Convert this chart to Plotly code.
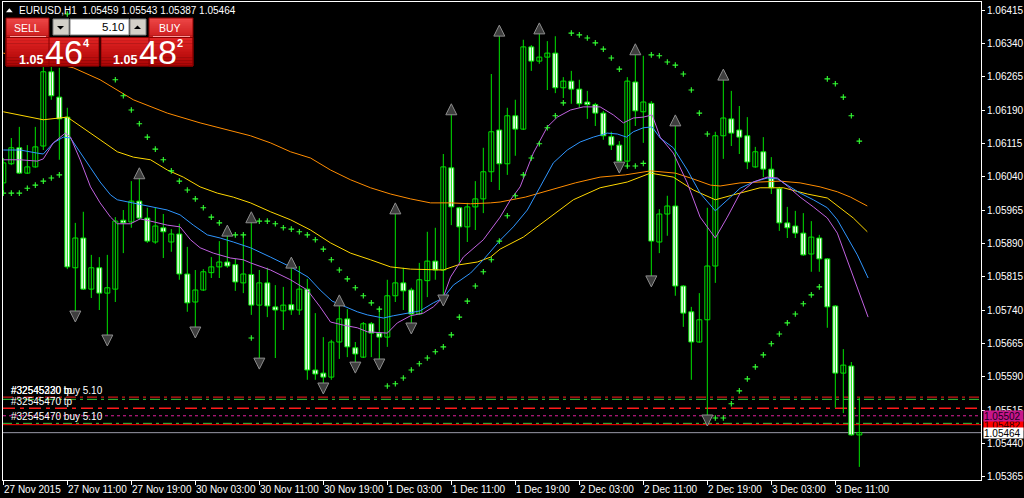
import plotly.graph_objects as go

# ---------------- data ----------------
symbol = "EURUSD,H1"
time_label_bars = [0, 8, 16, 24, 32, 40, 48, 56, 64, 72, 80, 88, 96, 104]
time_labels = ["27 Nov 2015", "27 Nov 11:00", "27 Nov 19:00", "30 Nov 03:00", "30 Nov 11:00",
               "30 Nov 19:00", "1 Dec 03:00", "1 Dec 11:00", "1 Dec 19:00", "2 Dec 03:00",
               "2 Dec 11:00", "2 Dec 19:00", "3 Dec 03:00", "3 Dec 11:00"]
price_ticks = [1.06415, 1.06340, 1.06265, 1.06190, 1.06115, 1.06040, 1.05965, 1.05890,
               1.05815, 1.05740, 1.05665, 1.05590, 1.05515, 1.05440, 1.05365]

opens = [1.06026, 1.06069, 1.06105, 1.06048, 1.06062, 1.06109, 1.06276, 1.06219, 1.06174, 1.05835,
         1.05902, 1.05787, 1.05835, 1.05778, 1.05787, 1.05942, 1.05938, 1.05985, 1.05947, 1.05893,
         1.05925, 1.05893, 1.05911, 1.05821, 1.05758, 1.05785, 1.05824, 1.05837, 1.05848, 1.05842,
         1.05801, 1.05820, 1.05751, 1.05801, 1.05747, 1.05738, 1.05752, 1.05740, 1.05787, 1.05605,
         1.05598, 1.05589, 1.05668, 1.05720, 1.05655, 1.05634, 1.05709, 1.05688, 1.05679, 1.05772,
         1.05801, 1.05785, 1.05731, 1.05806, 1.05850, 1.05830, 1.06060, 1.05970, 1.05927, 1.05972,
         1.05990, 1.06051, 1.06145, 1.06069, 1.06177, 1.06147, 1.06332, 1.06300, 1.06309, 1.06318,
         1.06240, 1.06255, 1.06237, 1.06208, 1.06202, 1.06183, 1.06130, 1.06111, 1.06075, 1.06253,
         1.06186, 1.06205, 1.05893, 1.05956, 1.05974, 1.05794, 1.05736, 1.05668, 1.05718, 1.05839,
         1.06132, 1.06170, 1.06145, 1.06132, 1.06062, 1.06096, 1.06057, 1.06013, 1.05936, 1.05929,
         1.05913, 1.05866, 1.05902, 1.05855, 1.05749, 1.05598, 1.05614, 1.05459]
highs = [1.06082, 1.06127, 1.06152, 1.06111, 1.06152, 1.06298, 1.06307, 1.06285, 1.06195, 1.05936,
         1.05961, 1.05864, 1.05859, 1.05864, 1.05949, 1.05965, 1.06030, 1.06037, 1.05970, 1.05970,
         1.05956, 1.05922, 1.05934, 1.05882, 1.05830, 1.05832, 1.05859, 1.05895, 1.05909, 1.05855,
         1.05909, 1.05938, 1.05830, 1.05835, 1.05796, 1.05792, 1.05839, 1.05839, 1.05810, 1.05733,
         1.05679, 1.05673, 1.05751, 1.05742, 1.05668, 1.05713, 1.05713, 1.05745, 1.05808, 1.05958,
         1.05835, 1.05790, 1.05846, 1.05916, 1.05925, 1.06091, 1.06181, 1.05972, 1.05981, 1.06030,
         1.06105, 1.06271, 1.06363, 1.06195, 1.06213, 1.06348, 1.06336, 1.06363, 1.06345, 1.06356,
         1.06264, 1.06278, 1.06258, 1.06233, 1.06206, 1.06188, 1.06141, 1.06120, 1.06264, 1.06314,
         1.06312, 1.06210, 1.05967, 1.05997, 1.06156, 1.05796, 1.05747, 1.05778, 1.05970, 1.06141,
         1.06260, 1.06233, 1.06199, 1.06174, 1.06107, 1.06129, 1.06084, 1.06017, 1.05972, 1.05963,
         1.05958, 1.05940, 1.05909, 1.05857, 1.05751, 1.05652, 1.05623, 1.05543]
lows = [1.06003, 1.06066, 1.06046, 1.06046, 1.06060, 1.06100, 1.06213, 1.06078, 1.05832, 1.05729,
        1.05785, 1.05767, 1.05740, 1.05677, 1.05758, 1.05868, 1.05925, 1.05943, 1.05891, 1.05889,
        1.05857, 1.05871, 1.05808, 1.05736, 1.05695, 1.05783, 1.05812, 1.05812, 1.05835, 1.05783,
        1.05778, 1.05729, 1.05621, 1.05724, 1.05632, 1.05695, 1.05729, 1.05729, 1.05583, 1.05583,
        1.05567, 1.05583, 1.05630, 1.05634, 1.05612, 1.05632, 1.05634, 1.05621, 1.05657, 1.05758,
        1.05740, 1.05702, 1.05729, 1.05769, 1.05808, 1.05758, 1.05931, 1.05846, 1.05893, 1.05920,
        1.05958, 1.06028, 1.06010, 1.06044, 1.06087, 1.06145, 1.06278, 1.06294, 1.06235, 1.06228,
        1.06217, 1.06204, 1.06195, 1.06170, 1.06154, 1.06123, 1.06100, 1.06064, 1.06062, 1.06154,
        1.06116, 1.05808, 1.05868, 1.05907, 1.05772, 1.05702, 1.05583, 1.05666, 1.05497, 1.05801,
        1.06080, 1.06109, 1.06091, 1.06057, 1.06060, 1.06039, 1.06001, 1.05918, 1.05902, 1.05902,
        1.05862, 1.05826, 1.05826, 1.05700, 1.05520, 1.05508, 1.05457, 1.05387]
closes = [1.06071, 1.06105, 1.06048, 1.06062, 1.06107, 1.06276, 1.06222, 1.06170, 1.05837, 1.05902,
          1.05787, 1.05835, 1.05778, 1.05790, 1.05940, 1.05936, 1.05985, 1.05947, 1.05895, 1.05929,
          1.05916, 1.05911, 1.05821, 1.05756, 1.05785, 1.05826, 1.05837, 1.05848, 1.05839, 1.05803,
          1.05821, 1.05751, 1.05801, 1.05749, 1.05740, 1.05751, 1.05740, 1.05787, 1.05605, 1.05596,
          1.05589, 1.05668, 1.05720, 1.05657, 1.05641, 1.05709, 1.05688, 1.05679, 1.05772, 1.05801,
          1.05783, 1.05731, 1.05808, 1.05850, 1.05830, 1.06062, 1.05972, 1.05927, 1.05972, 1.05990,
          1.06051, 1.06141, 1.06069, 1.06177, 1.06147, 1.06332, 1.06300, 1.06309, 1.06318, 1.06240,
          1.06255, 1.06237, 1.06204, 1.06202, 1.06183, 1.06132, 1.06111, 1.06075, 1.06255, 1.06188,
          1.06208, 1.05895, 1.05956, 1.05974, 1.05794, 1.05733, 1.05668, 1.05718, 1.05839, 1.06132,
          1.06172, 1.06138, 1.06129, 1.06073, 1.06096, 1.06057, 1.06015, 1.05936, 1.05925, 1.05913,
          1.05864, 1.05904, 1.05855, 1.05747, 1.05598, 1.05616, 1.05459, 1.05464]

# moving averages (bar position, price)
ma_blue_bar = [0, 2.1, 4.25, 5, 6.25, 7.5, 8.4, 9.6, 10.9, 12.1, 13.4, 14.25, 16.25, 18.4, 20.5, 22.1,
               23.75, 25.5, 27.1, 28.75, 30.9, 33.4, 35.9, 38.1, 39.6, 41.1, 42.5, 44.25, 45.5, 47.5,
               48.75, 50.5, 52.1, 53.75, 55, 56.25, 58.4, 60, 62.1, 63.75, 65.5, 67.1, 68.75, 70.5,
               72.1, 73.75, 75.5, 76.75, 77.9, 78.75, 80, 81.1, 82.1, 83.75, 85.5, 87.1, 89, 90.9,
               92.1, 93.75, 95.5, 96.75, 98, 99.6, 101.25, 103, 104.25, 105.5, 106.75, 108.1]
ma_blue = [1.06100, 1.06100, 1.06093, 1.06091, 1.06116, 1.06129, 1.06127, 1.06096, 1.06060, 1.06028,
           1.05999, 1.05988, 1.05981, 1.05972, 1.05965, 1.05954, 1.05931, 1.05909, 1.05902, 1.05893,
           1.05880, 1.05859, 1.05837, 1.05814, 1.05785, 1.05760, 1.05749, 1.05736, 1.05729, 1.05722,
           1.05727, 1.05733, 1.05738, 1.05756, 1.05767, 1.05796, 1.05823, 1.05853, 1.05897, 1.05927,
           1.05965, 1.06017, 1.06071, 1.06100, 1.06118, 1.06129, 1.06138, 1.06136, 1.06129, 1.06141,
           1.06150, 1.06152, 1.06127, 1.06105, 1.06055, 1.06003, 1.05963, 1.05994, 1.06014, 1.06028,
           1.06037, 1.06035, 1.06021, 1.06003, 1.05988, 1.05970, 1.05943, 1.05904, 1.05864, 1.05812]
ma_violet_bar = [0, 2.1, 4.25, 5, 6.25, 7.75, 8.4, 9.6, 10.9, 12.1, 13.4, 14.25, 15.9, 17.1, 18.4, 20.5,
                 22.1, 23.4, 24.6, 26.25, 28.4, 30, 30.9, 33.4, 35.9, 38, 39.6, 40.9, 42.5, 44.25,
                 45.5, 48, 49.25, 50.9, 52.5, 53.75, 55, 55.9, 57.5, 60, 62.1, 63.4, 64.6, 66.25, 68,
                 69.25, 70.9, 72.5, 74.6, 76.25, 77.5, 78.75, 80, 81.1, 82.1, 83.75, 85.5, 87.1, 89,
                 90.5, 92.1, 93.75, 95.5, 96.75, 98, 99.6, 101.25, 103, 104.25, 105.5, 106.75, 108.1]
ma_violet = [1.06078, 1.06078, 1.06075, 1.06080, 1.06116, 1.06138, 1.06129, 1.06078, 1.06017, 1.05981,
             1.05949, 1.05934, 1.05934, 1.05945, 1.05940, 1.05931, 1.05927, 1.05898, 1.05880, 1.05868,
             1.05857, 1.05853, 1.05846, 1.05830, 1.05808, 1.05785, 1.05747, 1.05713, 1.05706, 1.05700,
             1.05691, 1.05688, 1.05711, 1.05727, 1.05733, 1.05747, 1.05769, 1.05814, 1.05859, 1.05898,
             1.05949, 1.05988, 1.06017, 1.06093, 1.06152, 1.06174, 1.06190, 1.06197, 1.06197, 1.06179,
             1.06161, 1.06172, 1.06174, 1.06179, 1.06129, 1.06093, 1.06026, 1.05949, 1.05902, 1.05949,
             1.06003, 1.06028, 1.06039, 1.06037, 1.06019, 1.05994, 1.05972, 1.05947, 1.05913, 1.05853,
             1.05792, 1.05724]
ma_yellow_bar = [0, 5, 8, 10, 12.1, 14.25, 16.25, 18.4, 20.5, 22.5, 24.6, 26.75, 28.75, 30.9, 33.4,
                 35.9, 38.4, 40.9, 43.4, 45.9, 48.4, 50.9, 53.4, 55, 56.75, 59.25, 60.9, 62.1, 65,
                 68.4, 71.25, 74.6, 78, 80.9, 83.75, 86.25, 89, 91.25, 93.4, 94.6, 97.5, 100.5, 103,
                 104.6, 106.25, 108]
ma_yellow = [1.06186, 1.06168, 1.06174, 1.06150, 1.06123, 1.06096, 1.06084, 1.06078, 1.06055, 1.06039,
             1.06017, 1.06003, 1.05994, 1.05981, 1.05961, 1.05943, 1.05920, 1.05891, 1.05868, 1.05853,
             1.05837, 1.05832, 1.05830, 1.05830, 1.05841, 1.05848, 1.05859, 1.05877, 1.05904, 1.05949,
             1.05988, 1.06015, 1.06028, 1.06048, 1.06039, 1.06010, 1.05988, 1.05999, 1.06010, 1.06015,
             1.06015, 1.06001, 1.05992, 1.05970, 1.05947, 1.05916]
ma_orange_bar = [0, 8.75, 12.1, 16.25, 20.5, 24.6, 30.9, 33.4, 35.9, 38.4, 40.9, 43.4, 45.9, 48.4,
                 50.9, 53.4, 55.9, 58.4, 60.9, 62.1, 65.25, 68.4, 71.5, 74.6, 77.75, 80.9, 84, 85.9,
                 88.4, 89.6, 92.1, 94.6, 97.1, 99.6, 102.1, 104.25, 105.9, 108]
ma_orange = [1.06318, 1.06285, 1.06258, 1.06213, 1.06183, 1.06161, 1.06132, 1.06116, 1.06096, 1.06082,
             1.06055, 1.06033, 1.06015, 1.06001, 1.05990, 1.05981, 1.05981, 1.05979, 1.05981, 1.05983,
             1.05994, 1.06010, 1.06026, 1.06039, 1.06044, 1.06053, 1.06048, 1.06037, 1.06021, 1.06019,
             1.06026, 1.06028, 1.06030, 1.06026, 1.06017, 1.06006, 1.05994, 1.05974]

# parabolic SAR, one value per bar
sar = [1.06003, 1.06003, 1.06003, 1.06014, 1.06021, 1.06030, 1.06037, 1.06044, 1.06406, 1.06393,
       1.06375, 1.06352, 1.06325, 1.06294, 1.06258, 1.06222, 1.06190, 1.06159, 1.06129, 1.06102,
       1.06078, 1.06053, 1.06030, 1.06010, 1.05990, 1.05970, 1.05949, 1.05936, 1.05920, 1.05909,
       1.05909, 1.05677, 1.05940, 1.05940, 1.05934, 1.05925, 1.05922, 1.05916, 1.05909, 1.05898,
       1.05877, 1.05853, 1.05830, 1.05810, 1.05790, 1.05772, 1.05756, 1.05742, 1.05569, 1.05574,
       1.05587, 1.05605, 1.05619, 1.05632, 1.05646, 1.05657, 1.05684, 1.05724, 1.05760, 1.05794,
       1.05826, 1.05853, 1.05895, 1.05952, 1.05997, 1.06044, 1.06082, 1.06114, 1.06150, 1.06177,
       1.06206, 1.06363, 1.06359, 1.06352, 1.06341, 1.06327, 1.06307, 1.06282, 1.06064, 1.06064,
       1.06070, 1.06314, 1.06312, 1.06298, 1.06291, 1.06271, 1.06235, 1.06183, 1.06136, 1.05497,
       1.05497, 1.05529, 1.05558, 1.05585, 1.05612, 1.05639, 1.05664, 1.05686, 1.05711, 1.05731,
       1.05754, 1.05774, 1.05792, 1.06260, 1.06249, 1.06219, 1.06177, 1.06120]

# fractal arrows
up_bars = [17, 28, 31, 36, 42, 49, 56, 62, 67, 79, 84, 90]
up_prices = [1.06060, 1.05931, 1.05961, 1.05859, 1.05774, 1.05981, 1.06204, 1.06381, 1.06386,
             1.06339, 1.06179, 1.06282]
down_bars = [9, 13, 24, 32, 40, 44, 47, 51, 55, 77, 81, 88]
down_prices = [1.05713, 1.05659, 1.05677, 1.05607, 1.05551, 1.05598, 1.05605, 1.05686, 1.05749,
               1.06048, 1.05792, 1.05479]

# order / price lines
order_prices = [1.05544, 1.05539, 1.05519, 1.05502, 1.05485, 1.05482, 1.05464]
order_colors = ["#ff1a1a", "#3cc83c", "#ff1a1a", "#e0209a", "#3cc83c", "#ff0000", "#9a9aa8"]
order_dashes = ["10px,4px,3px,4px", "10px,4px,3px,4px", "12px,5px,4px,5px", "3px,3px",
                "9px,4px,3px,4px", "solid", "solid"]
order_widths = [1, 1, 1.6, 1, 1, 1, 1]
order_label_texts = ["#32545330 tp", "#32545220 buy 5.10", "#32545470 tp", "#32545470 buy 5.10"]
order_label_prices = [1.05544, 1.05544, 1.05519, 1.05485]

tag_prices = [1.05482, 1.05502, 1.05464]
tag_bg = ["#ff0000", "#c8168a", "#ffffff"]
tag_fg = ["#300000", "#14001a", "#000000"]

lot_size = "5.10"
sell_quote = ("1.05", "46", "4")
buy_quote = ("1.05", "48", "2")

# ---------------- figure ----------------
W, H = 1024, 498
ML, MR, MT, MB = 3, 43, 2, 18
PW, PH = W - ML - MR, H - MT - MB
FONT = "Liberation Sans"
GREEN = "#00e400"


def fx(x):
    return (x - ML) / PW


def fy(y):
    return (H - MB - y) / PH


bars = list(range(len(opens)))
fig = go.Figure()

# candle wicks
wick_x, wick_y = [], []
for b, lo, hi in zip(bars, lows, highs):
    wick_x += [b, b, None]
    wick_y += [lo, hi, None]
fig.add_trace(go.Scatter(x=wick_x, y=wick_y, mode="lines", line=dict(color=GREEN, width=1),
                         hoverinfo="skip", showlegend=False))

# candle bodies
body_base = [min(o, c) for o, c in zip(opens, closes)]
body_len = [max(abs(c - o), 0.000012) for o, c in zip(opens, closes)]
body_fill = ["#000000" if c >= o else "#ffffff" for o, c in zip(opens, closes)]
fig.add_trace(go.Bar(x=bars, y=body_len, base=body_base, width=0.62,
                     marker=dict(color=body_fill, line=dict(color=GREEN, width=1)),
                     hoverinfo="skip", showlegend=False))

for bx, vals, col in [(ma_orange_bar, ma_orange, "#ff8c00"),
                      (ma_yellow_bar, ma_yellow, "#ffd700"),
                      (ma_blue_bar, ma_blue, "#2f96ff"),
                      (ma_violet_bar, ma_violet, "#c162e0")]:
    fig.add_trace(go.Scatter(x=bx, y=vals, mode="lines", line=dict(color=col, width=1),
                             hoverinfo="skip", showlegend=False))

fig.add_trace(go.Scatter(x=bars, y=sar, mode="markers", hoverinfo="skip", showlegend=False,
                         marker=dict(symbol="cross-thin", size=4,
                                     line=dict(color="#33ff33", width=1.1))))

fig.add_trace(go.Scatter(x=up_bars, y=up_prices, mode="markers", hoverinfo="skip", showlegend=False,
                         marker=dict(symbol="arrow-up", size=11, color="#3e3e3e",
                                     line=dict(color="#8c8c8c", width=1))))
fig.add_trace(go.Scatter(x=down_bars, y=down_prices, mode="markers", hoverinfo="skip",
                         showlegend=False,
                         marker=dict(symbol="arrow-down", size=11, color="#3e3e3e",
                                     line=dict(color="#8c8c8c", width=1))))

shapes = []
for p, c, d, w in zip(order_prices, order_colors, order_dashes, order_widths):
    shapes.append(dict(type="line", xref="paper", x0=0, x1=1, yref="y", y0=p, y1=p,
                       line=dict(color=c, width=w, dash=d), layer="below"))


def lerp(c1, c2, t):
    return "rgb(%d,%d,%d)" % tuple(round(a + (b - a) * t) for a, b in zip(c1, c2))


def grad_rect(x0, y0, x1, y1, top, bot, n=10):
    for i in range(n):
        ya = y0 + (y1 - y0) * i / n
        yb = y0 + (y1 - y0) * (i + 1) / n + 0.3
        shapes.append(dict(type="rect", xref="paper", yref="paper",
                           x0=fx(x0), x1=fx(x1), y0=fy(yb), y1=fy(ya),
                           fillcolor=lerp(top, bot, (i + 0.5) / n), line=dict(width=0),
                           layer="above"))


def rect(x0, y0, x1, y1, fill=None, line=None, lw=1):
    shapes.append(dict(type="rect", xref="paper", yref="paper",
                       x0=fx(x0), x1=fx(x1), y0=fy(y1), y1=fy(y0),
                       fillcolor=fill if fill else "rgba(0,0,0,0)",
                       line=dict(color=line if line else "rgba(0,0,0,0)", width=lw if line else 0),
                       layer="above"))


def tri(points, color):
    path = "M " + " L ".join("%f,%f" % (fx(a), fy(b)) for a, b in points) + " Z"
    shapes.append(dict(type="path", xref="paper", yref="paper", path=path,
                       fillcolor=color, line=dict(width=0), layer="above"))


# one-click trading panel
rect(5, 17, 194, 67, fill="#000000")
grad_rect(6, 18, 49, 37.5, (238, 72, 72), (205, 28, 28))
grad_rect(149, 18, 193, 37.5, (238, 72, 72), (205, 28, 28))
shapes.append(dict(type="line", xref="paper", yref="paper", x0=fx(10), x1=fx(46),
                   y0=fy(36.5), y1=fy(36.5), line=dict(color="#ff9a9a", width=1), layer="above"))
shapes.append(dict(type="line", xref="paper", yref="paper", x0=fx(153), x1=fx(190),
                   y0=fy(36.5), y1=fy(36.5), line=dict(color="#ff9a9a", width=1), layer="above"))
grad_rect(6, 37.5, 99, 66, (226, 36, 36), (170, 4, 4))
grad_rect(101, 37.5, 193, 66, (226, 36, 36), (170, 4, 4))
rect(6, 18, 49, 66, line="#8a0000")
rect(149, 18, 193, 66, line="#8a0000")
rect(6, 37.5, 99, 66, line="#8a0000")
rect(101, 37.5, 193, 66, line="#8a0000")
rect(53, 19, 69, 35, fill="#d4d0c8", line="#808080")
rect(130, 19, 146, 35, fill="#d4d0c8", line="#808080")
rect(70, 19, 129, 35, fill="#ffffff", line="#808080")
tri([(57, 26), (64, 26), (60.5, 29.5)], "#000000")
tri([(134, 29), (141, 29), (137.5, 25.5)], "#000000")
tri([(6, 12.3), (12.7, 12.3), (9.35, 8.3)], "#ffffff")

ann = []


def text(x, y, s, size=10, color="#ffffff", xanchor="left", bold=False):
    ann.append(dict(xref="paper", yref="paper", x=fx(x), y=fy(y), text=("<b>%s</b>" % s) if bold else s,
                    showarrow=False, xanchor=xanchor, yanchor="middle", borderpad=0,
                    font=dict(family=FONT, size=size, color=color)))


text(18, 10.5, "%s\u00a0\u00a0%.5f %.5f %.5f %.5f" % (symbol, opens[-1], highs[-1], lows[-1], closes[-1]),
     size=10)
text(26.5, 28, "SELL", size=10.5, xanchor="center")
text(170, 28, "BUY", size=10.5, xanchor="center")
text(125, 27, lot_size, size=11.5, color="#000000", xanchor="right")
for (small, big, sup), x0 in [(sell_quote, 18), (buy_quote, 112)]:
    text(x0, 59.5, small, size=12.5, bold=True)
    text(x0 + 26, 52, big, size=34)
    text(x0 + 64, 43.5, sup, size=11, bold=True)

for b, lab in zip(time_label_bars, time_labels):
    ann.append(dict(xref="x", yref="paper", x=b, y=fy(489), text=lab, showarrow=False,
                    xanchor="left", yanchor="middle", xshift=0, borderpad=0,
                    font=dict(family=FONT, size=10, color="#ffffff")))

for t, p in zip(order_label_texts, order_label_prices):
    ann.append(dict(xref="paper", yref="y", x=0, y=p, text=t, showarrow=False, xanchor="left",
                    yanchor="bottom", xshift=7, yshift=0, borderpad=0,
                    font=dict(family=FONT, size=10, color="#ffffff")))

for p, bg, fg in zip(tag_prices, tag_bg, tag_fg):
    ann.append(dict(xref="paper", yref="y", x=1, y=p, text="%.5f" % p, showarrow=False,
                    xanchor="left", yanchor="middle", xshift=2, width=39, height=10, align="left",
                    bgcolor=bg, borderpad=0, font=dict(family=FONT, size=10, color=fg)))

fig.update_layout(
    width=W, height=H, margin=dict(l=ML, r=MR, t=MT, b=MB, pad=0),
    paper_bgcolor="#000000", plot_bgcolor="#000000", showlegend=False,
    shapes=shapes, annotations=ann, hovermode=False, barmode="overlay",
    xaxis=dict(type="linear", range=[-0.04, -0.04 + PW / 8.0], showgrid=False, zeroline=False,
               tickvals=time_label_bars, showticklabels=False, ticks="outside", ticklen=4,
               tickcolor="#ffffff", showline=True, linecolor="#ffffff", linewidth=1, mirror=True,
               fixedrange=True),
    yaxis=dict(side="right", range=[1.053575, 1.06433], showgrid=False, zeroline=False,
               tickvals=price_ticks, ticktext=["%.5f" % v for v in price_ticks],
               ticks="outside", ticklen=3, tickcolor="#ffffff",
               tickfont=dict(family=FONT, size=10, color="#ffffff"), automargin=False,
               showline=True, linecolor="#ffffff", linewidth=1, mirror=True, fixedrange=True),
)

fig.write_html("out.html", config={"displayModeBar": False},
               post_script="document.body.style.margin='0';document.body.style.padding='0';"
                           "document.body.style.background='#000';")
